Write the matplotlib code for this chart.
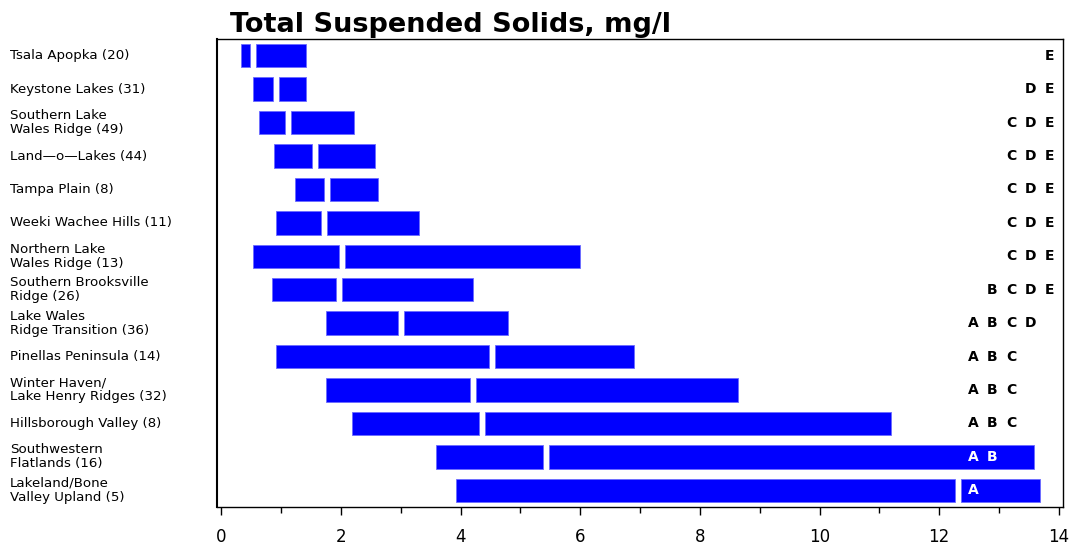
import matplotlib
matplotlib.use("Agg")
import matplotlib.pyplot as plt
from matplotlib.transforms import blended_transform_factory

# regions, top to bottom
regions = [
    "Tsala Apopka (20)",
    "Keystone Lakes (31)",
    "Southern Lake\nWales Ridge (49)",
    "Land\u2014o\u2014Lakes (44)",
    "Tampa Plain (8)",
    "Weeki Wachee Hills (11)",
    "Northern Lake\nWales Ridge (13)",
    "Southern Brooksville\nRidge (26)",
    "Lake Wales\nRidge Transition (36)",
    "Pinellas Peninsula (14)",
    "Winter Haven/\nLake Henry Ridges (32)",
    "Hillsborough Valley (8)",
    "Southwestern\nFlatlands (16)",
    "Lakeland/Bone\nValley Upland (5)",
]

# 25th percentile, median, 75th percentile (mg/l)
q1 = [0.33, 0.53, 0.63, 0.88, 1.23, 0.92, 0.53, 0.84, 1.74, 0.92, 1.74, 2.18, 3.58, 3.92]
median = [0.52, 0.91, 1.11, 1.56, 1.77, 1.72, 2.01, 1.97, 3.01, 4.52, 4.21, 4.35, 5.42, 12.31]
q3 = [1.41, 1.41, 2.21, 2.56, 2.61, 3.30, 6.00, 4.20, 4.79, 6.89, 8.64, 11.20, 13.58, 13.69]

# multiple comparison groupings
groups = ["E", "DE", "CDE", "CDE", "CDE", "CDE", "CDE", "BCDE",
          "ABCD", "ABC", "ABC", "ABC", "AB", "A"]
letter_cols = ["A", "B", "C", "D", "E"]
letter_x = [12.57, 12.89, 13.20, 13.52, 13.85]

BLUE = "#0000ff"
GAP = 0.10
HEIGHT = 0.70
FONT = "DejaVu Sans"

fig = plt.figure(figsize=(10.73, 5.45), dpi=100)
ax = fig.add_axes([217 / 1073, 38 / 545, 846 / 1073, 468 / 545])

y = list(range(len(regions)))
left_w = [m - GAP / 2 - a for a, m in zip(q1, median)]
right_l = [m + GAP / 2 for m in median]
right_w = [b - m - GAP / 2 for b, m in zip(q3, median)]

ax.barh(y, left_w, left=q1, height=HEIGHT, color=BLUE, edgecolor="#6b6bff", linewidth=0.6)
ax.barh(y, right_w, left=right_l, height=HEIGHT, color=BLUE, edgecolor="#6b6bff", linewidth=0.6)

for i, g in enumerate(groups):
    for ch in g:
        x = letter_x[letter_cols.index(ch)]
        # letters sitting on a bar are drawn white
        col = "white" if q3[i] > x else "black"
        ax.text(x, i, ch, ha="center", va="center", fontsize=10, color=col,
                family=FONT, fontweight="bold")

ax.set_ylim(len(regions) - 0.5, -0.5)
ax.set_xlim(-0.074, 14.07)
ax.set_yticks([])
ax.set_xticks(range(0, 15, 2))
ax.set_xticks(range(1, 15, 2), minor=True)
ax.tick_params(axis="x", which="major", length=6, width=1, labelsize=12, pad=9)
ax.tick_params(axis="x", which="minor", length=4, width=1)
for lab in ax.get_xticklabels():
    lab.set_family(FONT)
for s in ax.spines.values():
    s.set_linewidth(1.0)
ax.spines["left"].set_linewidth(1.5)

# region labels on the left
trans = blended_transform_factory(fig.transFigure, ax.transData)
for i, name in enumerate(regions):
    ax.text(10 / 1073, i, name, transform=trans, ha="left", va="center",
            fontsize=9.6, family=FONT, linespacing=1.08)

fig.text(230 / 1073, 1 - 32 / 545, "Total Suspended Solids, mg/l", ha="left", va="baseline",
         fontsize=19.5, fontweight="bold", family=FONT)

fig.savefig("out.png", dpi=100)
